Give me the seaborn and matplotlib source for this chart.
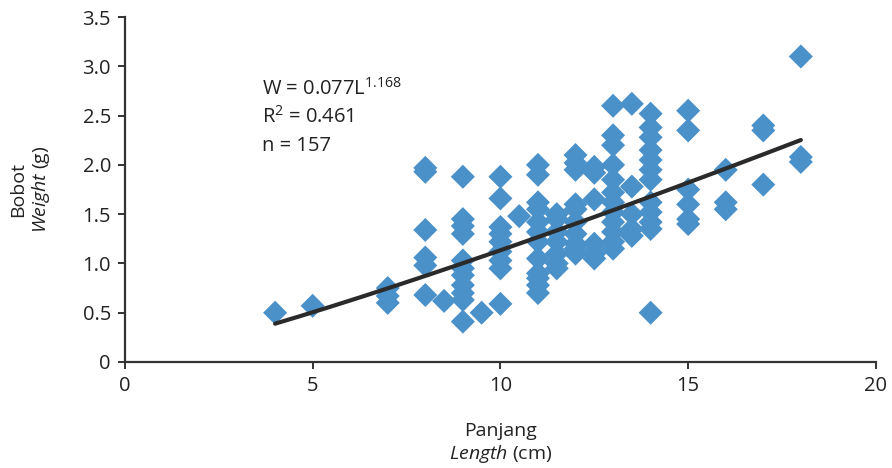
import numpy as np
import pandas as pd
import matplotlib
matplotlib.use("Agg")
import matplotlib.pyplot as plt
import seaborn as sns

# ---- data ----
length_cm = (
    [4] + [5] + [7] * 3 + [8] * 6 + [8.5] + [9] * 11 + [9.5] + [10] * 9 + [10.5]
    + [11] * 12 + [11.5] * 7 + [12] * 10 + [12.5] * 6 + [13] * 12 + [13.5] * 5
    + [14] * 12 + [15] * 6 + [16] * 3 + [17] * 3 + [18] * 3
)
weight_g = (
    [0.50]
    + [0.57]
    + [0.75, 0.67, 0.60]
    + [1.97, 1.93, 1.34, 1.06, 0.98, 0.68]
    + [0.62]
    + [1.88, 1.45, 1.38, 1.30, 1.03, 0.95, 0.88, 0.78, 0.70, 0.63, 0.41]
    + [0.50]
    + [1.88, 1.66, 1.37, 1.30, 1.22, 1.12, 1.03, 0.95, 0.59]
    + [1.48]
    + [2.00, 1.90, 1.62, 1.55, 1.42, 1.32, 1.22, 1.05, 0.90, 0.85, 0.78, 0.70]
    + [1.50, 1.45, 1.32, 1.22, 1.10, 1.00, 0.95]
    + [2.10, 2.02, 1.95, 1.60, 1.55, 1.42, 1.30, 1.20, 1.15, 1.10]
    + [1.98, 1.92, 1.65, 1.20, 1.10, 1.05]
    + [2.60, 2.30, 2.20, 2.00, 1.85, 1.72, 1.62, 1.52, 1.42, 1.32, 1.22, 1.15]
    + [2.62, 1.78, 1.50, 1.35, 1.28]
    + [2.52, 2.38, 2.28, 2.15, 2.05, 1.95, 1.85, 1.62, 1.52, 1.42, 1.35, 0.50]
    + [2.55, 2.35, 1.75, 1.60, 1.45, 1.40]
    + [1.95, 1.62, 1.55]
    + [2.40, 2.35, 1.80]
    + [3.10, 2.08, 2.03]
)
fit_a = 0.077
fit_b = 1.168
fit_range = [4, 18]
x_ticks = [0, 5, 10, 15, 20]
y_ticks = [0, 0.5, 1.0, 1.5, 2.0, 2.5, 3.0, 3.5]
y_ticklabels = ["0", "0.5", "1.0", "1.5", "2.0", "2.5", "3.0", "3.5"]
eq_lines = ["W = 0.077L$^{1.168}$", "R$^{2}$ = 0.461", "n = 157"]

df = pd.DataFrame({"Length": length_cm, "Weight": weight_g})
fx = np.linspace(fit_range[0], fit_range[1], 200)
fit_df = pd.DataFrame({"Length": fx, "Weight": fit_a * fx ** fit_b})

sns.set_theme(style="ticks")
font = "Open Sans"
plt.rcParams["font.family"] = [font, "DejaVu Sans"]
plt.rcParams["mathtext.fontset"] = "custom"
plt.rcParams["mathtext.rm"] = font
plt.rcParams["mathtext.it"] = font + ":italic"
plt.rcParams["mathtext.default"] = "rm"

fig = plt.figure(figsize=(8.92, 4.68), dpi=100)
ax = fig.add_axes([0.140, 0.2265, 0.842, 0.737])

sns.scatterplot(data=df, x="Length", y="Weight", marker="D", s=150,
                color="#4a90c9", edgecolor="none", linewidth=0, ax=ax, zorder=2)
sns.lineplot(data=fit_df, x="Length", y="Weight", color="#2a2a2a",
             linewidth=3.0, ax=ax, zorder=3)

ax.set_xlim(0, 20)
ax.set_ylim(0, 3.5)
ax.set_xticks(x_ticks)
ax.set_xticklabels([str(t) for t in x_ticks])
ax.set_yticks(y_ticks)
ax.set_yticklabels(y_ticklabels)

for s in ["top", "right"]:
    ax.spines[s].set_visible(False)
for s in ["left", "bottom"]:
    ax.spines[s].set_color("#333333")
    ax.spines[s].set_linewidth(1.6)
ax.tick_params(axis="both", direction="out", length=5, width=1.4,
               color="#333333", labelsize=14.5, labelcolor="#222222", pad=5)

ax.set_xlabel("Panjang\n$\\mathit{Length}$ (cm)", fontsize=14, color="#222222",
              labelpad=19, linespacing=1.2)
ax.set_ylabel("Bobot\n$\\mathit{Weight}$ (g)", fontsize=14, color="#222222",
              labelpad=22, linespacing=1.2)

ys = [2.77, 2.49, 2.19]
for t, yy in zip(eq_lines, ys):
    ax.text(3.65, yy, t, fontsize=14.5, color="#222222", ha="left", va="center")

fig.savefig("out.png", dpi=100)
